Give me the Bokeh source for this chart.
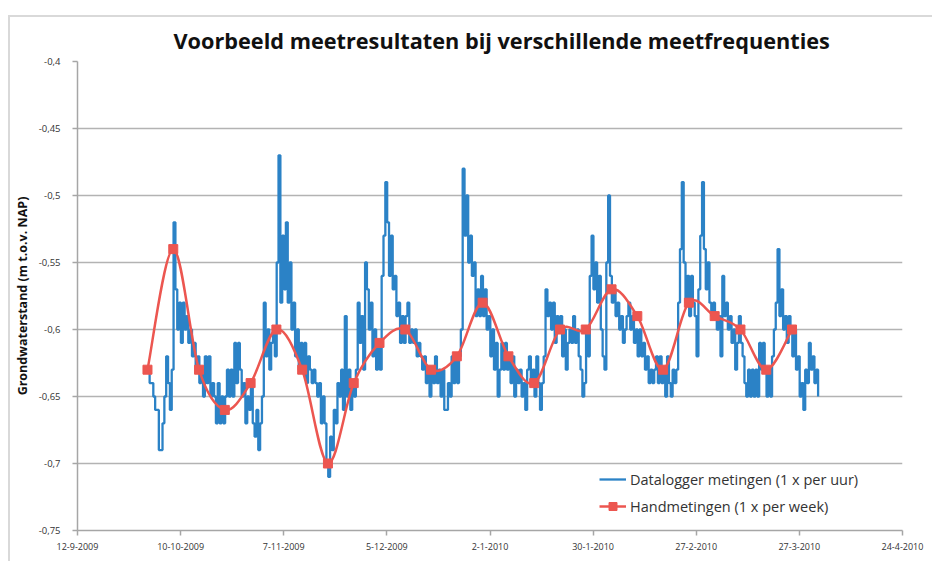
import pandas as pd
from bokeh.plotting import figure
from bokeh.models import (Range1d, FixedTicker, Legend, LegendItem, Title, ColumnDataSource)
from bokeh.embed import file_html
from bokeh.resources import INLINE

# ---------------- data ----------------
title_text = "Voorbeeld meetresultaten bij verschillende meetfrequenties"
y_label = "Grondwaterstand (m t.o.v. NAP)"
series_names = ["Datalogger metingen (1 x per uur)", "Handmetingen (1 x per week)"]

x_tick_dates = ["2009-09-12", "2009-10-10", "2009-11-07", "2009-12-05", "2010-01-02",
                "2010-01-30", "2010-02-27", "2010-03-27", "2010-04-24"]
x_tick_labels = ["12-9-2009", "10-10-2009", "7-11-2009", "5-12-2009", "2-1-2010",
                 "30-1-2010", "27-2-2010", "27-3-2010", "24-4-2010"]
y_ticks = [-0.75, -0.7, -0.65, -0.6, -0.55, -0.5, -0.45, -0.4]
y_tick_labels = ["-0,75", "-0,7", "-0,65", "-0,6", "-0,55", "-0,5", "-0,45", "-0,4"]

# datalogger readings (one value per 12 hours)
logger_start = "2009-09-30 14:00"
logger_step_hours = 12
logger_values = [
    -0.63, -0.63, -0.64, -0.64, -0.65, -0.66, -0.66, -0.69, -0.69, -0.67,
    -0.65, -0.62, -0.64, -0.66, -0.63, -0.52, -0.57, -0.60, -0.58, -0.61,
    -0.58, -0.60, -0.59, -0.61, -0.60, -0.62, -0.61, -0.63, -0.62, -0.64,
    -0.63, -0.65, -0.62, -0.64, -0.62, -0.65, -0.64, -0.65, -0.67, -0.64,
    -0.67, -0.65, -0.67, -0.65, -0.63, -0.65, -0.63, -0.65, -0.61, -0.64,
    -0.61,
    -0.63, -0.65, -0.64, -0.67, -0.65, -0.66, -0.64, -0.67, -0.68, -0.66,
    -0.69, -0.67, -0.65, -0.58, -0.62, -0.60, -0.63, -0.61, -0.60, -0.62,
    -0.55, -0.47, -0.58, -0.53, -0.57, -0.52, -0.58, -0.55, -0.60, -0.58,
    -0.62, -0.60, -0.63, -0.61, -0.63, -0.61, -0.64, -0.62, -0.63, -0.64,
    -0.63, -0.64, -0.65, -0.64, -0.67, -0.65, -0.67, -0.70, -0.71, -0.68,
    -0.69, -0.66, -0.67, -0.64,
    -0.65, -0.63, -0.66, -0.59, -0.65, -0.63, -0.66, -0.64, -0.65, -0.63,
    -0.58, -0.61, -0.59, -0.63, -0.55, -0.57, -0.60, -0.58, -0.62, -0.60,
    -0.63, -0.61, -0.63, -0.56, -0.53, -0.49, -0.52, -0.56, -0.53, -0.57,
    -0.56, -0.59, -0.58, -0.61, -0.59, -0.61, -0.59, -0.58, -0.61, -0.60,
    -0.61, -0.60, -0.62, -0.61, -0.62, -0.63, -0.62, -0.64, -0.63, -0.65,
    -0.63, -0.64, -0.62, -0.64,
    -0.63, -0.65, -0.63, -0.66, -0.66, -0.64, -0.65, -0.62, -0.64, -0.62,
    -0.64, -0.62, -0.60, -0.48, -0.53, -0.50, -0.55, -0.53, -0.56, -0.55,
    -0.59, -0.57, -0.59, -0.56, -0.59, -0.57, -0.60, -0.59, -0.62, -0.60,
    -0.63, -0.61, -0.65, -0.63, -0.61, -0.63, -0.61, -0.63, -0.62, -0.64,
    -0.62, -0.65, -0.63, -0.64, -0.63, -0.65, -0.64, -0.66, -0.63, -0.62,
    -0.64, -0.63, -0.65, -0.62, -0.64,
    -0.66, -0.64, -0.62, -0.57, -0.59, -0.58, -0.60, -0.58, -0.61, -0.59,
    -0.60, -0.59, -0.62, -0.60, -0.63, -0.61, -0.60, -0.61, -0.59, -0.61,
    -0.60, -0.62, -0.63, -0.65, -0.64, -0.60, -0.62, -0.56, -0.53, -0.57,
    -0.55, -0.58, -0.56, -0.60, -0.62, -0.63, -0.55, -0.50, -0.56, -0.58,
    -0.57, -0.59, -0.58, -0.60, -0.59, -0.61, -0.60, -0.59, -0.58, -0.60,
    -0.59, -0.61, -0.60, -0.62,
    -0.60, -0.62, -0.61, -0.63, -0.62, -0.64, -0.63, -0.64, -0.63, -0.62,
    -0.64, -0.62, -0.64, -0.63, -0.65, -0.62, -0.64, -0.65, -0.63, -0.64,
    -0.63, -0.58, -0.54, -0.49, -0.55, -0.58, -0.56, -0.59, -0.56, -0.58,
    -0.59, -0.62, -0.57, -0.53, -0.49, -0.54, -0.57, -0.55, -0.58, -0.59,
    -0.58, -0.59, -0.60, -0.59, -0.62, -0.56, -0.59, -0.58, -0.60, -0.59,
    -0.61, -0.60, -0.63, -0.61,
    -0.59, -0.61, -0.62, -0.64, -0.65, -0.63, -0.65, -0.63, -0.65, -0.63,
    -0.65, -0.61, -0.63, -0.61, -0.63, -0.65, -0.63, -0.65, -0.62, -0.60,
    -0.58, -0.54, -0.59, -0.57, -0.60, -0.59, -0.61, -0.59, -0.60, -0.62,
    -0.60, -0.63, -0.62, -0.65, -0.64, -0.66, -0.63, -0.64, -0.61, -0.63,
    -0.62, -0.64, -0.63, -0.65,
]

# weekly manual readings
hand_dates = ["2009-10-01", "2009-10-08", "2009-10-15", "2009-10-22", "2009-10-29",
              "2009-11-05", "2009-11-12", "2009-11-19", "2009-11-26", "2009-12-03",
              "2009-12-10", "2009-12-17", "2009-12-24", "2009-12-31", "2010-01-07",
              "2010-01-14", "2010-01-21", "2010-01-28", "2010-02-04", "2010-02-11",
              "2010-02-18", "2010-02-25", "2010-03-04", "2010-03-11", "2010-03-18",
              "2010-03-25"]
hand_values = [-0.63, -0.54, -0.63, -0.66, -0.64, -0.60, -0.63, -0.70, -0.64, -0.61,
               -0.60, -0.63, -0.62, -0.58, -0.62, -0.64, -0.60, -0.60, -0.57, -0.59,
               -0.63, -0.58, -0.59, -0.60, -0.63, -0.60]

x_start, x_end = "2009-09-12", "2010-04-24"
y_start, y_end = -0.75, -0.4

# ---------------- helpers ----------------
def ms(d):
    return pd.Timestamp(d).value / 1e6

logger_x = [ms(t) for t in pd.date_range(logger_start, periods=len(logger_values),
                                          freq=f"{logger_step_hours}h")]
hand_x = [ms(d) for d in hand_dates]

# smoothed (Excel-like) curve drawn as cubic bezier segments through the weekly points
n = len(hand_x)
bz = dict(x0=[], y0=[], x1=[], y1=[], cx0=[], cy0=[], cx1=[], cy1=[])
for i in range(n - 1):
    p0 = (hand_x[max(i - 1, 0)], hand_values[max(i - 1, 0)])
    p1 = (hand_x[i], hand_values[i])
    p2 = (hand_x[i + 1], hand_values[i + 1])
    p3 = (hand_x[min(i + 2, n - 1)], hand_values[min(i + 2, n - 1)])
    bz["x0"].append(p1[0]); bz["y0"].append(p1[1])
    bz["x1"].append(p2[0]); bz["y1"].append(p2[1])
    bz["cx0"].append(p1[0] + (p2[0] - p0[0]) / 6); bz["cy0"].append(p1[1] + (p2[1] - p0[1]) / 6)
    bz["cx1"].append(p2[0] - (p3[0] - p1[0]) / 6); bz["cy1"].append(p2[1] - (p3[1] - p1[1]) / 6)

BLUE = "#2b82c6"
RED = "#ec5650"
FONT = "Open Sans"

p = figure(width=924, height=546, output_backend="svg", toolbar_location=None,
           x_range=Range1d(ms(x_start), ms(x_end)), y_range=Range1d(y_start, y_end),
           min_border_left=66, min_border_right=32, min_border_top=43, min_border_bottom=33)
p.styles = {"position": "relative", "top": "15px", "left": "8px",
            "border-top": "2px solid #d9d9d9", "border-left": "2px solid #d9d9d9"}
p.outline_line_color = None
p.background_fill_color = "white"
p.border_fill_color = "white"

p.title = Title(text=title_text, align="left", offset=96, text_font=FONT,
                text_font_size="21.7px", text_font_style="bold", text_color="#111111",
                standoff=13)

# axes
p.xaxis.ticker = FixedTicker(ticks=[ms(d) for d in x_tick_dates], minor_ticks=[])
p.xaxis.major_label_overrides = {ms(d): lab for d, lab in zip(x_tick_dates, x_tick_labels)}
p.yaxis.ticker = FixedTicker(ticks=y_ticks, minor_ticks=[])
p.yaxis.major_label_overrides = {t: lab for t, lab in zip(y_ticks, y_tick_labels)}
for ax in (p.xaxis[0], p.yaxis[0]):
    ax.axis_line_color = "#a6a6a6"
    ax.axis_line_width = 1.5
    ax.major_tick_line_color = "#a6a6a6"
    ax.major_tick_line_width = 1.5
    ax.major_tick_in = 0
    ax.major_tick_out = 5
    ax.minor_tick_line_color = None
    ax.major_label_text_font = FONT
    ax.major_label_text_color = "#333333"
p.xaxis.major_label_text_font_size = "9px"
p.yaxis.major_label_text_font_size = "9.5px"
p.xaxis.major_label_standoff = 7
p.yaxis.major_label_standoff = 12
p.yaxis.axis_label = y_label
p.yaxis.axis_label_text_font = FONT
p.yaxis.axis_label_text_font_size = "12.5px"
p.yaxis.axis_label_text_font_style = "bold"
p.yaxis.axis_label_text_color = "#111111"
p.yaxis.axis_label_standoff = 5

p.xgrid.grid_line_color = None
p.ygrid.grid_line_color = "#b3b3b3"
p.ygrid.grid_line_width = 1.5

# data
r_blue = p.step(logger_x, logger_values, mode="after", line_color=BLUE, line_width=2.3)
r_red_line = p.bezier(source=ColumnDataSource(bz), x0="x0", y0="y0", x1="x1", y1="y1",
                      cx0="cx0", cy0="cy0", cx1="cx1", cy1="cy1",
                      line_color=RED, line_width=2.5)
r_red_pts = p.scatter(hand_x, hand_values, marker="square", size=9,
                      fill_color=RED, line_color=RED)

legend = Legend(items=[LegendItem(label=series_names[0], renderers=[r_blue]),
                       LegendItem(label=series_names[1], renderers=[r_red_line, r_red_pts])],
                location=(522, 14), orientation="vertical",
                label_text_font=FONT, label_text_font_size="14.5px",
                label_text_color="#333333", glyph_width=27, glyph_height=20,
                label_height=20, spacing=7, padding=5, label_standoff=4,
                border_line_color=None, background_fill_alpha=0)
p.add_layout(legend)

open("out.html", "w").write(file_html(p, INLINE))
